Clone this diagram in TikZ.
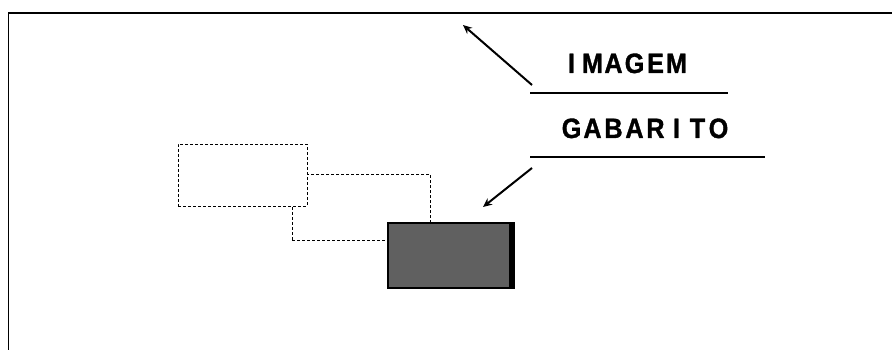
\documentclass[tikz,border=0pt]{standalone}
\usepackage{fontspec}
\usetikzlibrary{arrows.meta}
\newfontfamily\plotfont[FakeStretch=0.9,FakeBold=1.2]{Liberation Sans}
\makeatletter
\newcommand\pitched[1]{\@tfor\ch:=#1\do{\makebox[21pt][c]{\ch}}}
\makeatother
\definecolor{boxgray}{RGB}{96,96,96}
\tikzset{
  frameline/.style={line width=1.6pt,black},
  hidden/.style={draw=black,line width=0.9pt,dash pattern=on 3pt off 2pt},
  leader/.style={line width=2pt,black},
  pointer/.style={line width=2pt,black,-{Stealth[length=9pt,width=8pt]}},
  label/.style={font=\plotfont\bfseries\fontsize{28}{28}\selectfont,inner sep=0pt,anchor=base},
  plainbox/.style={rectangle,inner sep=0pt,outer sep=0pt}
}
\begin{document}
\begin{tikzpicture}[x=1pt,y=-1pt]
\useasboundingbox (0,0) rectangle (892,350);
% outer frame
\coordinate (fTL) at (8.5,13);
\coordinate (fTR) at (892,13);
\coordinate (fBL) at (8.5,350);
\draw[frameline] (fTR) -- (fTL) -- (fBL);
% hidden (back) rectangle
\node[plainbox,hidden,minimum width=138pt,minimum height=66pt] (back) at (361,207) {};
% front dashed rectangle
\node[plainbox,hidden,fill=white,minimum width=129pt,minimum height=62pt] (img) at (242.5,175) {};
% dark template box
\node[plainbox,fill=boxgray,draw=black,line width=1.2pt,minimum width=126pt,minimum height=65pt] (gab) at (451,255.5) {};
\fill[black] ([xshift=-5pt]gab.north east) rectangle (gab.south east);
% labels
\node[label] (imagem) at (624,73) {\pitched{IMAGEM}};
\node[label] (gabarito) at (645,138) {\pitched{GABARITO}};
% leader lines
\coordinate (l1a) at (530,93);
\coordinate (l1b) at (728,93);
\coordinate (l2a) at (530,157);
\coordinate (l2b) at (765,157);
\draw[leader] (l1a) -- (l1b);
\draw[leader] (l2a) -- (l2b);
% pointers
\coordinate (p1s) at (532,85);
\coordinate (p1e) at (463,25);
\coordinate (p2s) at (532,168);
\coordinate (p2e) at (483,207);
\draw[pointer] (p1s) -- (p1e);
\draw[pointer] (p2s) -- (p2e);
\end{tikzpicture}
\end{document}
